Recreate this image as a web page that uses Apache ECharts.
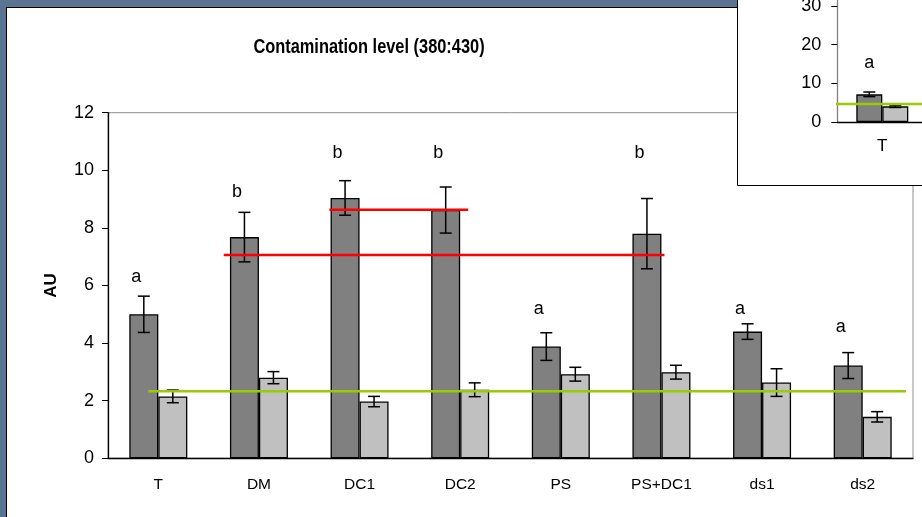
<!DOCTYPE html>
<html>
<head>
<meta charset="utf-8">
<script src="https://cdn.jsdelivr.net/npm/echarts@6/dist/echarts.min.js"></script>
<style>
    html, body { margin: 0; padding: 0; background: #fff; }
    #chart { width: 922px; height: 517px; }
</style>
</head>
<body>
<div id="chart"></div>
<script>
    // data
    const categories = ['T', 'DM', 'DC1', 'DC2', 'PS', 'PS+DC1', 'ds1', 'ds2'];
    const darkValues = [5.0, 7.68, 9.04, 8.62, 3.88, 7.8, 4.4, 3.22];
    const darkErrors = [0.63, 0.86, 0.6, 0.8, 0.48, 1.22, 0.27, 0.45];
    const lightValues = [2.15, 2.8, 1.97, 2.38, 2.92, 2.99, 2.63, 1.44];
    const lightErrors = [0.22, 0.21, 0.18, 0.24, 0.24, 0.24, 0.48, 0.18];
    const letters = ['a', 'b', 'b', 'b', 'a', 'b', 'a', 'a'];
    const letterLevels = [6.31, 9.26, 10.6, 10.6, 5.18, 10.6, 5.18, 4.56];
    const yTicks = [0, 2, 4, 6, 8, 10, 12];

    // reference lines, [x position in category units, y value]
    const redLineLong = [[1.15, 7.06], [5.53, 7.06]];
    const redLineShort = [[2.2, 8.63], [3.58, 8.63]];
    const greenLine = [[0.4, 2.33], [7.93, 2.33]];

    // inset chart
    const insetCategories = ['T', 'DM'];
    const insetDark = [7.15, null];
    const insetDarkErr = [0.6, null];
    const insetLight = [4.05, null];
    const insetLightErr = [0.3, null];
    const insetLetters = ['a'];
    const insetLetterLevels = [15.25];
    const insetGreen = [[-0.09, 4.65], [2, 4.65]];

    const font = 'Liberation Sans, Arial, sans-serif';
    const barW = 29;
    const insetBarW = 26;

    const errorSeries = (values, errors, shift, xi, yi, z) => ({
        type: 'custom',
        xAxisIndex: xi,
        yAxisIndex: yi,
        z: z,
        data: values.map((v, i) => v == null ? null : [i, v, errors[i]]).filter(d => d),
        renderItem: function (params, api) {
            const top = api.coord([api.value(0), api.value(1) + api.value(2)]);
            const bot = api.coord([api.value(0), api.value(1) - api.value(2)]);
            const x = top[0] + shift;
            const st = { stroke: '#000', lineWidth: 1.5 };
            return {
                type: 'group',
                children: [
                    { type: 'line', shape: { x1: x, y1: top[1], x2: x, y2: bot[1] }, style: st },
                    { type: 'line', shape: { x1: x - 6, y1: top[1], x2: x + 6, y2: top[1] }, style: st },
                    { type: 'line', shape: { x1: x - 6, y1: bot[1], x2: x + 6, y2: bot[1] }, style: st }
                ]
            };
        }
    });

    const letterSeries = (labels, levels, shift, xi, yi, z) => ({
        type: 'custom',
        xAxisIndex: xi,
        yAxisIndex: yi,
        z: z,
        data: labels.map((t, i) => [i, levels[i]]),
        renderItem: function (params, api) {
            const p = api.coord([api.value(0), api.value(1)]);
            return {
                type: 'text',
                x: p[0] + shift,
                y: p[1],
                style: {
                    text: labels[params.dataIndex],
                    font: '18px ' + font,
                    fill: '#000',
                    align: 'center',
                    verticalAlign: 'middle'
                }
            };
        }
    });

    const refLine = (data, color, width, xi, yi, z) => ({
        type: 'line',
        xAxisIndex: xi,
        yAxisIndex: yi,
        z: z,
        data: data,
        symbol: 'none',
        clip: false,
        silent: true,
        lineStyle: { color: color, width: width }
    });

    const chart = echarts.init(document.getElementById('chart'));

    chart.setOption({
        backgroundColor: '#fff',
        animation: false,
        graphic: [
            { type: 'rect', z: 5, shape: { x: 0, y: 0, width: 922, height: 7 }, style: { fill: '#5a7592' } },
            { type: 'rect', z: 5, shape: { x: 0, y: 0, width: 6, height: 517 }, style: { fill: '#5a7592' } },
            { type: 'line', z: 5, shape: { x1: 6.5, y1: 7, x2: 6.5, y2: 517 }, style: { stroke: '#000', lineWidth: 1 } },
            { type: 'line', z: 5, shape: { x1: 6, y1: 7.5, x2: 922, y2: 7.5 }, style: { stroke: '#000', lineWidth: 1 } },
            {
                // title is a bit condensed in the reference
                type: 'text', z: 5, x: 369, y: 47, scaleX: 0.78,
                style: {
                    text: 'Contamination level (380:430)',
                    font: 'bold 21px ' + font,
                    fill: '#000',
                    align: 'center',
                    verticalAlign: 'middle'
                }
            },
            { type: 'rect', z: 20, shape: { x: 737.5, y: -5, width: 200, height: 190.5 }, style: { fill: '#fff', stroke: '#000', lineWidth: 1 } }
        ],
        grid: [
            {
                left: 108, top: 112.7, width: 805, height: 345.6, outerBoundsMode: 'none',
                show: true, borderColor: '#8c8c8c', borderWidth: 1, backgroundColor: 'transparent'
            },
            { left: 837.3, top: -32.8, width: 180, height: 154.8, outerBoundsMode: 'none', z: 21 }
        ],
        xAxis: [
            {
                type: 'category', gridIndex: 0, data: categories,
                axisLine: { lineStyle: { color: '#000', width: 1.3 } },
                axisTick: { length: 6, interval: 0, lineStyle: { color: '#000' } },
                axisLabel: { fontFamily: font, fontSize: 15.5, color: '#000', margin: 18 }
            },
            { type: 'value', gridIndex: 0, min: 0, max: 8, show: false },
            {
                type: 'category', gridIndex: 1, data: insetCategories, z: 21,
                axisLine: { lineStyle: { color: '#000', width: 1.3 } },
                axisTick: { length: 5, interval: 0, lineStyle: { color: '#000' } },
                axisLabel: { fontFamily: font, fontSize: 17, color: '#000', margin: 16 }
            },
            { type: 'value', gridIndex: 1, min: 0, max: 2, show: false }
        ],
        yAxis: [
            {
                type: 'value', gridIndex: 0, min: 0, max: 12, interval: 2,
                name: 'AU', nameLocation: 'middle', nameGap: 48,
                nameTextStyle: { fontFamily: font, fontSize: 17, fontWeight: 'bold', color: '#000' },
                axisLine: { show: true, lineStyle: { color: '#000', width: 1.3 } },
                axisTick: { show: true, length: 6, lineStyle: { color: '#000' } },
                splitLine: { show: false },
                axisLabel: {
                    fontFamily: font, fontSize: 18, color: '#000', margin: 14,
                    formatter: v => yTicks.includes(v) ? String(v) : ''
                }
            },
            {
                type: 'value', gridIndex: 1, min: 0, max: 40, interval: 10, z: 21,
                axisLine: { show: true, lineStyle: { color: '#808080', width: 1.3 } },
                axisTick: { show: true, length: 6, lineStyle: { color: '#000' } },
                splitLine: { show: false },
                axisLabel: { fontFamily: font, fontSize: 18, color: '#000', margin: 16 }
            }
        ],
        series: [
            {
                type: 'bar', xAxisIndex: 0, yAxisIndex: 0, data: darkValues,
                barWidth: barW, barGap: '0%',
                itemStyle: { color: '#808080', borderColor: '#000', borderWidth: 1.3 }
            },
            {
                type: 'bar', xAxisIndex: 0, yAxisIndex: 0, data: lightValues,
                barWidth: barW, barGap: '0%',
                itemStyle: { color: '#c0c0c0', borderColor: '#000', borderWidth: 1.3 }
            },
            errorSeries(darkValues, darkErrors, -barW / 2, 0, 0, 3),
            errorSeries(lightValues, lightErrors, barW / 2, 0, 0, 3),
            refLine(greenLine, '#99cc00', 2.5, 1, 0, 4),
            refLine(redLineLong, '#ff0000', 2.5, 1, 0, 4),
            refLine(redLineShort, '#ff0000', 2.5, 1, 0, 4),
            letterSeries(letters, letterLevels, -22, 0, 0, 4),

            {
                type: 'bar', xAxisIndex: 2, yAxisIndex: 1, data: insetDark, z: 22,
                barWidth: insetBarW, barGap: '0%',
                itemStyle: { color: '#808080', borderColor: '#000', borderWidth: 1.3 }
            },
            {
                type: 'bar', xAxisIndex: 2, yAxisIndex: 1, data: insetLight, z: 22,
                barWidth: insetBarW, barGap: '0%',
                itemStyle: { color: '#c0c0c0', borderColor: '#000', borderWidth: 1.3 }
            },
            errorSeries(insetDark, insetDarkErr, -insetBarW / 2, 2, 1, 23),
            errorSeries(insetLight, insetLightErr, insetBarW / 2, 2, 1, 23),
            refLine(insetGreen, '#99cc00', 2.5, 3, 1, 24),
            letterSeries(insetLetters, insetLetterLevels, -insetBarW / 2, 2, 1, 24)
        ]
    });
</script>
</body>
</html>
